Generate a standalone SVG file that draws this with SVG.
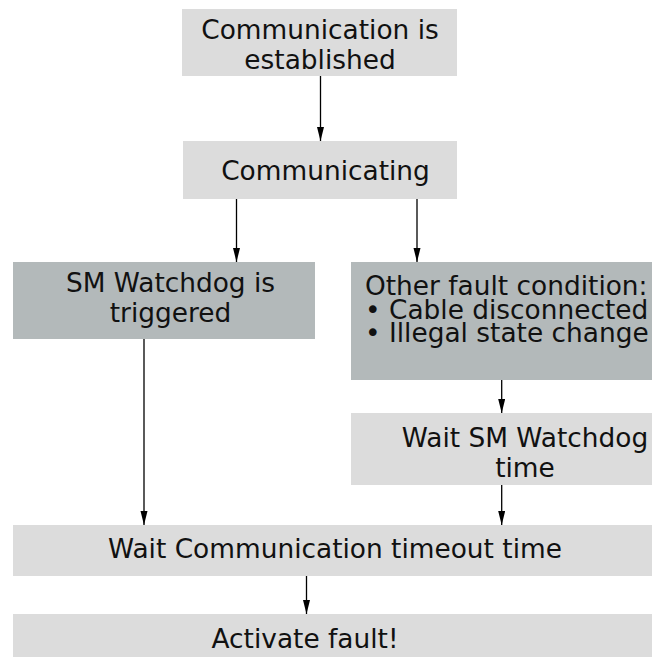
<svg xmlns="http://www.w3.org/2000/svg" width="652" height="657" viewBox="0 0 652 657">
<style>
.light{fill:#dcdcdc}
.dark{fill:#b3b9ba}
text{font-family:"DejaVu Sans","Liberation Sans",sans-serif;font-size:26.4px;fill:#111}
.c{text-anchor:middle}
.conn line{stroke:#000;stroke-width:1.3;marker-end:url(#ah)}
</style>
<defs>
<marker id="ah" markerUnits="userSpaceOnUse" markerWidth="14" markerHeight="8" refX="14" refY="3.5" orient="auto">
<path d="M0,0 L14,3.5 L0,7 Z" fill="#000"/>
</marker>
</defs>
<g id="n-established"><rect class="light" x="182" y="9" width="275" height="67"/><text class="c" x="320" y="39">Communication is</text><text class="c" x="320" y="69">established</text></g>
<g id="n-communicating"><rect class="light" x="183" y="141" width="274" height="58"/><text class="c" x="325.5" y="180">Communicating</text></g>
<g id="n-smwatchdog"><rect class="dark" x="13" y="262" width="302" height="77"/><text class="c" x="170.5" y="292">SM Watchdog is</text><text class="c" x="170.5" y="322">triggered</text></g>
<g id="n-otherfault"><rect class="dark" x="351" y="262" width="301" height="118"/><text x="365" y="295">Other fault condition:<tspan x="365" dy="24">• Cable disconnected</tspan><tspan x="365" dy="23">• Illegal state change</tspan></text></g>
<g id="n-waitsm"><rect class="light" x="351" y="413" width="301" height="72"/><text class="c" x="525" y="447">Wait SM Watchdog</text><text class="c" x="525" y="477">time</text></g>
<g id="n-waitcomm"><rect class="light" x="13" y="525" width="639" height="51"/><text class="c" x="335" y="558">Wait Communication timeout time</text></g>
<g id="n-activate"><rect class="light" x="13" y="614" width="639" height="43"/><text class="c" x="305" y="648">Activate fault!</text></g>
<g id="connectors" class="conn">
<line x1="320.5" y1="76" x2="320.5" y2="141"/>
<line x1="236.5" y1="199" x2="236.5" y2="262"/>
<line x1="417" y1="199" x2="417" y2="262"/>
<line x1="144" y1="339" x2="144" y2="525"/>
<line x1="501.7" y1="380" x2="501.7" y2="413"/>
<line x1="501.7" y1="485" x2="501.7" y2="525"/>
<line x1="306.5" y1="576" x2="306.5" y2="614"/>
</g>
</svg>
